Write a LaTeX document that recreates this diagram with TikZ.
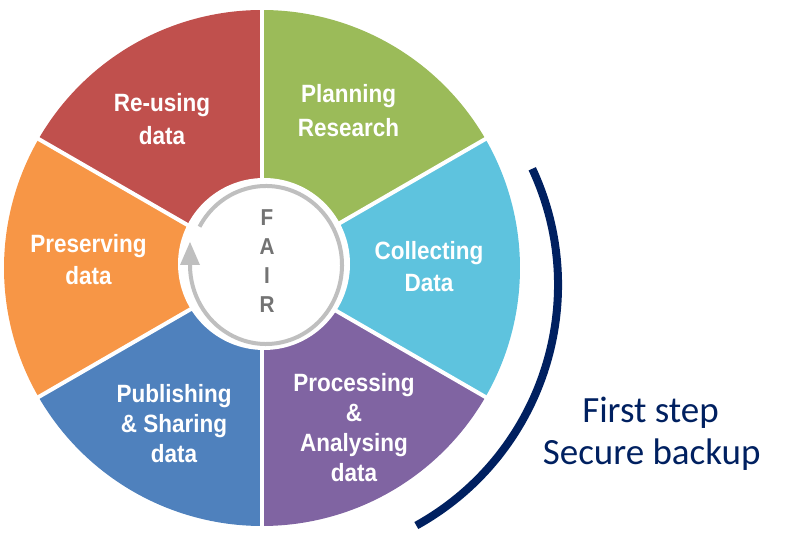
\documentclass[tikz,border=0pt]{standalone}
\usepackage{fontspec}
\setmainfont{Liberation Sans}
\newfontfamily\segfont{Liberation Sans}[FakeStretch=0.9]
\newfontfamily\calfont{Carlito}
\definecolor{cred}{HTML}{C0504D}
\definecolor{cgreen}{HTML}{9BBB59}
\definecolor{ccyan}{HTML}{5EC3DE}
\definecolor{cpurple}{HTML}{8064A2}
\definecolor{cblue}{HTML}{4F81BD}
\definecolor{corange}{HTML}{F79646}
\definecolor{navy}{HTML}{002060}
\definecolor{ringgray}{HTML}{BFBFBF}
\definecolor{fairgray}{HTML}{737373}
\begin{document}
\begin{tikzpicture}[x=1pt,y=1pt,
  seglabel/.style={text=white, inner sep=0pt, anchor=base, font=\segfont\bfseries},
  fairletter/.style={text=fairgray, inner sep=0pt, font=\segfont\bfseries\fontsize{23}{23}\selectfont},
  sidetext/.style={text=navy, inner sep=0pt, anchor=base, font=\calfont\fontsize{37}{37}\selectfont},
  gapline/.style={white, line width=4pt},
  bracket/.style={navy, line width=8pt},
  ring/.style={ringgray, line width=4pt}
]
\useasboundingbox (0,0) rectangle (785,557);
\coordinate (C) at (262,289);
\def\R{258}
% sectors
\fill[cgreen]  (C) -- ++(30:\R)  arc[start angle=30,  end angle=90,  radius=\R] -- cycle;
\fill[cred]    (C) -- ++(90:\R)  arc[start angle=90,  end angle=150, radius=\R] -- cycle;
\fill[corange] (C) -- ++(150:\R) arc[start angle=150, end angle=210, radius=\R] -- cycle;
\fill[cblue]   (C) -- ++(210:\R) arc[start angle=210, end angle=270, radius=\R] -- cycle;
\fill[cpurple] (C) -- ++(270:\R) arc[start angle=270, end angle=330, radius=\R] -- cycle;
\fill[ccyan]   (C) -- ++(330:\R) arc[start angle=330, end angle=390, radius=\R] -- cycle;
% white separators
\foreach \a in {30,90,150,210,270,330}
  \draw[gapline] (C) -- ++(\a:\R+2);
% inner white disk
\coordinate (D) at (264,293);
\fill[white] (D) circle[radius=86];
% grey ring with arrow
\coordinate (E) at (266,292);
\draw[ring] (E) ++(151:76 and 79) arc[start angle=151, end angle=-180, x radius=76, y radius=79];
\fill[ringgray] (180,292) -- (200,292) -- (190,315) -- cycle;
% FAIR
\node[fairletter] (fF) at (267,339) {F};
\node[fairletter] (fA) at (267,310) {A};
\node[fairletter] (fI) at (267,281) {I};
\node[fairletter] (fR) at (267,252) {R};
% segment labels
\node[seglabel] (reuse) at (162,445) {\fontsize{25}{33}\selectfont\begin{tabular}[t]{@{}c@{}}Re-using\\data\end{tabular}};
\node[seglabel] (plan) at (348.5,454) {\fontsize{25}{34}\selectfont\begin{tabular}[t]{@{}c@{}}Planning\\Research\end{tabular}};
\node[seglabel] (collect) at (429,297) {\fontsize{25}{32}\selectfont\begin{tabular}[t]{@{}c@{}}Collecting\\Data\end{tabular}};
\node[seglabel] (process) at (354,165.3) {\fontsize{25}{30}\selectfont\begin{tabular}[t]{@{}c@{}}Processing\\\&\\Analysing\\data\end{tabular}};
\node[seglabel] (publish) at (174,154) {\fontsize{25}{30}\selectfont\begin{tabular}[t]{@{}c@{}}Publishing\\\& Sharing\\data\end{tabular}};
\node[seglabel] (preserve) at (88.5,304) {\fontsize{25}{32}\selectfont\begin{tabular}[t]{@{}c@{}}Preserving\\data\end{tabular}};
% navy bracket
\coordinate (B) at (283,272);
\draw[bracket] (B) ++(25:275) arc[start angle=25, end angle=-61, radius=275];
% side text
\node[sidetext] (first) at (650.5,134) {First step};
\node[sidetext] (secure) at (651.7,92) {Secure backup};
\end{tikzpicture}
\end{document}
